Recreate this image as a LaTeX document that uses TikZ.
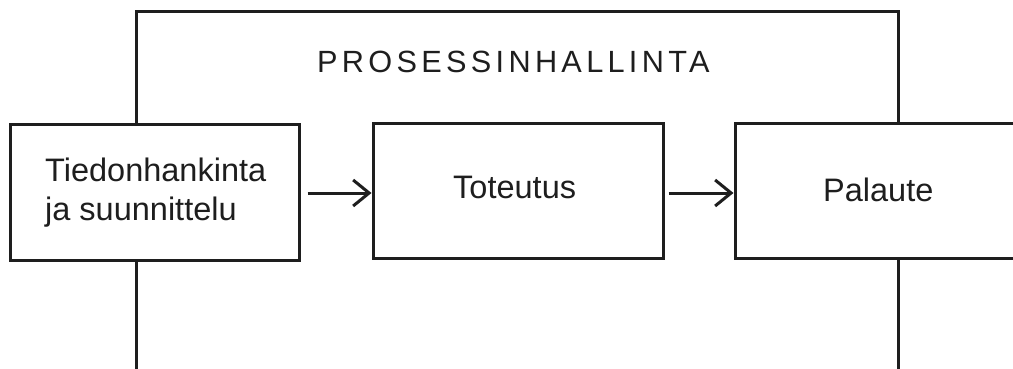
\documentclass[tikz,border=0pt]{standalone}
\usepackage{fontspec}
\setmainfont{Liberation Sans}
\newfontfamily\spacedfont[LetterSpace=14]{Liberation Sans}
\usetikzlibrary{arrows.meta}
\definecolor{ink}{HTML}{1E1E1E}
\tikzset{
  x=1pt,y=-1pt,
  box/.style={draw=ink,line width=3pt,minimum width=#1,minimum height=135pt,inner sep=0pt},
  lbl/.style={inner sep=0pt,text=ink,font=\fontsize{32.5}{39}\selectfont},
  arr/.style={draw=ink,line width=3pt,-{Straight Barb[length=16pt,width=26pt,line width=3pt]}}
}
\begin{document}
\begin{tikzpicture}
\useasboundingbox (0,0) rectangle (1013,369);
\begin{scope}
\clip (0,0) rectangle (1013,369);
% outer frame, open at the bottom
\coordinate (fbl) at (136,375);
\coordinate (ftl) at (136,12);
\coordinate (ftr) at (898,12);
\coordinate (fbr) at (898,375);
\draw[ink,line width=3pt] (fbl) -- (ftl) -- (ftr) -- (fbr);
\node[inner sep=0pt,anchor=base west,text=ink,font=\spacedfont\fontsize{30.7}{36}\selectfont] (title) at (317,73) {PROSESSINHALLINTA};
% boxes
\node[box=289pt,minimum height=136pt,fill=white] (b1) at (154.5,192) {};
\node[box=290pt,fill=white] (b2) at (518,190.5) {};
\node[box=300pt,fill=white] (b3) at (885,190.5) {};
% labels
\node[lbl,anchor=base west] (t1a) at (45,181) {Tiedonhankinta};
\node[lbl,anchor=base west] (t1b) at (45,220) {ja suunnittelu};
\node[lbl,anchor=base west] (t2) at (453,198) {Toteutus};
\node[lbl,anchor=base west] (t3) at (823,201) {Palaute};
% arrows
\draw[arr] ([xshift=7pt,yshift=-1pt]b1.east) -- ([yshift=-1pt]b1.east -| b2.west);
\draw[arr] ([xshift=4pt,yshift=-2.5pt]b2.east) -- ([yshift=-2.5pt]b2.east -| b3.west);
\end{scope}
\end{tikzpicture}
\end{document}
